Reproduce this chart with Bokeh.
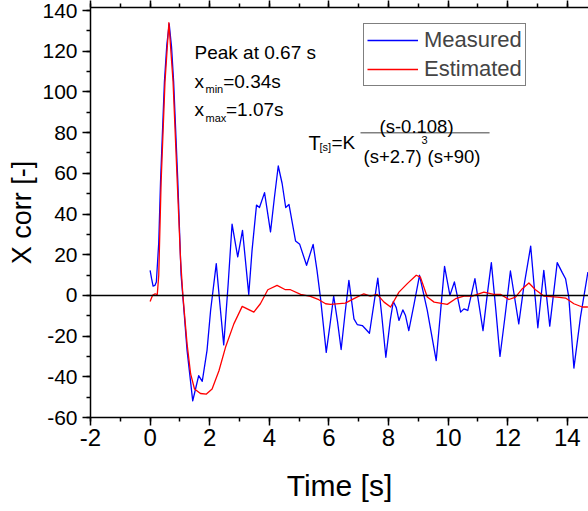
from bokeh.plotting import figure
from bokeh.models import (Span, Label, Legend, LegendItem, LinearAxis, NumeralTickFormatter,
                          CustomJSTickFormatter, SingleIntervalTicker, Range1d, BoxAnnotation,
                          ColumnDataSource)
from bokeh.embed import file_html
from bokeh.resources import INLINE

FONT = "Liberation Sans"

# ---- data ----
meas_t = [0.00, 0.05, 0.10, 0.16, 0.21, 0.29, 0.35, 0.48, 0.56, 0.64, 0.72, 0.79, 0.93, 1.04, 1.11,
          1.24, 1.43, 1.54, 1.63, 1.75, 1.91, 2.03, 2.22, 2.34, 2.47, 2.62, 2.75, 2.94, 3.10, 3.31,
          3.42, 3.57, 3.67, 3.84, 4.04, 4.17, 4.30, 4.43, 4.55, 4.66, 4.88, 5.02, 5.25, 5.47, 5.60,
          5.72, 5.91, 6.04, 6.16, 6.29, 6.41, 6.54, 6.67, 6.84, 6.95, 7.12, 7.23, 7.36, 7.50, 7.64,
          7.78, 7.91, 8.06, 8.16, 8.26, 8.35, 8.48, 8.57, 8.68, 8.86, 9.04, 9.30, 9.60, 9.74, 9.88,
          10.06, 10.21, 10.42, 10.53, 10.66, 10.90, 11.03, 11.17, 11.31, 11.45, 11.60, 11.74, 11.92,
          12.09, 12.37, 12.53, 12.77, 12.89, 13.01, 13.21, 13.41, 13.66, 13.83, 13.94, 14.05, 14.22,
          14.44, 14.69]
meas_v = [12.3, 8.2, 4.6, 4.9, 6.6, 26.0, 56.0, 105.0, 123.0, 133.5, 122.0, 105.0, 56.0, 9.9, -2.5,
          -27.0, -51.8, -45.0, -39.4, -42.2, -27.0, -7.4, 15.6, -4.0, -24.3, 5.7, 35.0, 18.9, 32.0, 0.5,
          22.0, 44.4, 43.2, 50.5, 31.2, 48.0, 63.6, 55.0, 43.2, 44.7, 26.8, 25.1, 14.8, 25.1, 12.3,
          -1.6, -28.0, -14.0, -0.3, -13.0, -26.6, -9.0, 7.4, -11.5, -14.3, -14.8, -16.5, -18.6, -5.0, 8.5,
          -11.0, -30.4, -12.0, -3.0, -6.0, -12.3, -7.1, -9.9, -17.3, -4.0, 9.9, -7.4, -32.0, -9.0, 14.3,
          0.0, 6.6, -8.2, -6.6, -7.4, 8.2, -4.0, -17.3, 0.0, 16.1, -7.0, -30.0, -9.0,
          12.0, -14.0, 3.3, 24.2, 4.0, -15.9, 12.3, -15.1, 16.1, 11.2, 8.2, -1.0, -35.7,
          -10.7, 11.5]

est_t = [0.00, 0.08, 0.17, 0.24, 0.29, 0.37, 0.50, 0.63, 0.77, 0.91, 1.02, 1.10, 1.24, 1.36, 1.49,
         1.69, 1.89, 2.08, 2.31, 2.53, 2.81, 3.09, 3.26, 3.48, 3.70, 3.95, 4.26, 4.54, 4.71, 5.05,
         5.38, 5.66, 5.89, 6.05, 6.55, 6.84, 7.17, 7.39, 7.62, 7.85, 8.07, 8.35, 8.63, 8.93, 9.07,
         9.30, 9.53, 9.97, 10.25, 10.53, 10.81, 11.20, 11.53, 11.76, 12.04, 12.26, 12.49, 12.71,
         12.93, 13.21, 13.66, 13.94, 14.22, 14.50, 14.69]
est_v = [-3.0, 0.0, 0.8, 0.3, 9.9, 56.0, 105.0, 134.0, 105.0, 56.0, 18.0, 0.0, -23.8, -38.6, -46.0,
         -48.2, -48.5, -46.0, -37.0, -25.5, -14.0, -5.4, -6.6, -8.2, -4.1, 2.8, 4.9, 2.8, 2.8, 0.5,
         -0.5, -2.1, -4.1, -4.4, -3.8, -1.6, 0.8, -0.3, 0.5, -3.3, -5.7, 1.6, 5.8, 9.9, 9.0,
         -0.8, -3.3, -4.4, -1.6, -0.3, -0.3, 1.6, 0.5, 0.5, -2.0, -0.8, 3.3, 6.1,
         2.8, -0.3, -0.8, -1.3, -4.1, -5.7, -5.7]

series_names = ["Measured", "Estimated"]

src_m = ColumnDataSource(dict(t=meas_t, v=meas_v))
src_e = ColumnDataSource(dict(t=est_t, v=est_v))

p = figure(width=588, height=511, output_backend="svg", toolbar_location=None,
           x_range=Range1d(-2, 14.71), y_range=Range1d(-60, 141.5),
           min_border_left=90, min_border_right=0, min_border_top=0, min_border_bottom=94,
           background_fill_color="white", border_fill_color="white")
p.outline_line_color = None
p.xgrid.visible = False
p.ygrid.visible = False

def style_axis(ax, tick_size):
    ax.axis_line_width = 1.5
    ax.axis_line_color = "black"
    ax.major_tick_line_width = 1.5
    ax.minor_tick_line_width = 1.5
    ax.major_tick_in = 0
    ax.major_tick_out = 8
    ax.minor_tick_in = 0
    ax.minor_tick_out = 4
    ax.major_label_text_font = FONT
    ax.major_label_text_font_size = tick_size
    ax.major_label_text_color = "black"
    ax.axis_label_text_font = FONT
    ax.axis_label_text_font_style = "normal"
    ax.axis_label_text_color = "black"

p.xaxis.ticker = SingleIntervalTicker(interval=2, num_minor_ticks=2)
p.yaxis.ticker = SingleIntervalTicker(interval=20, num_minor_ticks=2)
p.xaxis.formatter = NumeralTickFormatter(format="0")
p.yaxis.formatter = NumeralTickFormatter(format="0")
style_axis(p.xaxis[0], "24px")
style_axis(p.yaxis[0], "21px")
p.xaxis.axis_label = "Time [s]"
p.xaxis.axis_label_text_font_size = "30px"
p.xaxis.major_label_standoff = 3
p.xaxis.axis_label_standoff = 20
p.yaxis.axis_label = "X corr [-]"
p.yaxis.axis_label_text_font_size = "27px"
p.yaxis.major_label_standoff = 5
p.yaxis.axis_label_standoff = 2

top = LinearAxis(ticker=SingleIntervalTicker(interval=2, num_minor_ticks=2),
                 formatter=CustomJSTickFormatter(code="return ''"))
style_axis(top, "1px")
top.major_tick_out = 7
top.minor_tick_out = 4
top.major_label_standoff = 0
p.add_layout(top, "above")

p.add_layout(Span(location=0, dimension="width", line_color="black", line_width=1.5))

r_m = p.line("t", "v", source=src_m, line_color="#0000ff", line_width=1.3, line_join="round")
r_e = p.line("t", "v", source=src_e, line_color="#ff0000", line_width=1.3, line_join="round")

legend = Legend(items=[LegendItem(label=series_names[0], renderers=[r_m]),
                       LegendItem(label=series_names[1], renderers=[r_e])],
                location=(273, 331), margin=0, padding=3, spacing=3,
                glyph_width=51, glyph_height=24, label_height=24, label_standoff=6,
                label_text_font=FONT, label_text_font_size="22px",
                border_line_color="black", border_line_width=1.5,
                background_fill_color="white", background_fill_alpha=1.0)
p.add_layout(legend)

def lab(x, y, text, size="19px", align="left"):
    p.add_layout(Label(x=x, y=y, text=text, text_font=FONT, text_font_size=size,
                       text_color="black", text_baseline="alphabetic", text_align=align))

lab(1.49, 119.2, "Peak at 0.67 s")
lab(1.49, 105.2, "x")
lab(1.859, 101.5, "min", "11px")
lab(2.453, 105.2, "=0.34s")
lab(1.49, 91.2, "x")
lab(1.859, 87.3, "max", "11px")
lab(2.547, 91.2, "=1.07s")

lab(5.315, 75.0, "T", "20px")
lab(5.685, 72.7, "[s]", "11px")
lab(6.087, 75.0, "=K", "19px")
p.add_layout(BoxAnnotation(left=7.06, right=11.39, bottom=79.63, top=80.37,
                           fill_color="#808080", fill_alpha=1.0, line_color=None))
lab(8.94, 82.8, "(s-0.108)", "18.5px", "center")
lab(7.161, 68.5, "(s+2.7)", "18.5px")
lab(9.107, 76.4, "3", "11px")
lab(9.309, 68.5, "(s+90)", "18.5px")

open("out.html", "w").write(file_html(p, INLINE))
